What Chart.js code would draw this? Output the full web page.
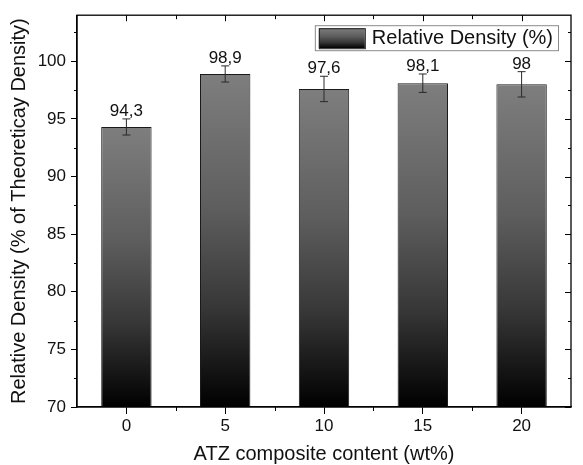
<!DOCTYPE html>
<html>
<head>
<meta charset="utf-8">
<script src="https://cdn.jsdelivr.net/npm/chart.js@4/dist/chart.umd.min.js"></script>
<style>
  html, body { margin: 0; padding: 0; background: #fff; }
  #wrap { width: 583px; height: 465px; }
</style>
</head>
<body>
<div id="wrap"><canvas id="chart" width="583" height="465"></canvas></div>
<script>
// ── Data ─────────────────────────────────────────────
const categories = ['0', '5', '10', '15', '20']
const density    = [94.3, 98.9, 97.6, 98.1, 98.0]
const densityErr = [0.7, 0.7, 1.1, 0.8, 1.1]
const yTicks     = [70, 75, 80, 85, 90, 95, 100]

const FONT = "'Liberation Sans', Arial, sans-serif"

// per-bar vertical gradient, gray on top fading to black at the baseline
function barGradient(ctx, top, bottom) {
  const g = ctx.createLinearGradient(0, top, 0, bottom)
  g.addColorStop(0, '#7e7e7e')
  g.addColorStop(0.4, '#5e5e5e')
  g.addColorStop(0.7, '#373737')
  g.addColorStop(1, '#000000')
  return g
}

// ── Error bars + value labels ────────────────────────
const errorBars = {
  id: 'errorBars',
  afterDatasetsDraw(chart) {
    const { ctx } = chart
    const y = chart.scales.y
    const meta = chart.getDatasetMeta(0)
    ctx.save()
    meta.data.forEach((bar, i) => {
      const hi = y.getPixelForValue(density[i] + densityErr[i])
      const lo = y.getPixelForValue(density[i] - densityErr[i])
      ctx.strokeStyle = '#2a2a2a'
      ctx.lineWidth = 1
      ctx.beginPath()
      ctx.moveTo(bar.x, hi); ctx.lineTo(bar.x, lo)
      ctx.moveTo(bar.x - 4, hi); ctx.lineTo(bar.x + 4, hi)
      ctx.moveTo(bar.x - 4, lo); ctx.lineTo(bar.x + 4, lo)
      ctx.stroke()

      ctx.fillStyle = '#111'
      ctx.font = `17px ${FONT}`
      ctx.textAlign = 'center'
      ctx.textBaseline = 'alphabetic'
      ctx.fillText(String(density[i]).replace('.', ','), bar.x, hi - 3)
    })
    ctx.restore()
  },
}

// ── Frame, mirrored ticks, minor ticks ───────────────
const frame = {
  id: 'frame',
  afterDraw(chart) {
    const { ctx, chartArea: a } = chart
    const x = chart.scales.x, y = chart.scales.y
    ctx.save()
    ctx.strokeStyle = '#000'
    ctx.lineWidth = 1.3
    ctx.strokeRect(a.left, a.top, a.right - a.left, a.bottom - a.top)

    ctx.lineWidth = 1
    ctx.beginPath()
    // y: minor outward on left, all inward on right
    for (let v = 70; v <= 104; v += 2.5) {
      const py = Math.round(y.getPixelForValue(v)) + 0.5
      const major = v % 5 === 0
      if (!major) { ctx.moveTo(a.left, py); ctx.lineTo(a.left - 3, py) }
      ctx.moveTo(a.right, py); ctx.lineTo(a.right - (major ? 6 : 3), py)
    }
    // x: minor between categories, top inward
    for (let i = 0; i < categories.length; i++) {
      const px = Math.round(x.getPixelForValue(i)) + 0.5
      ctx.moveTo(px, a.top); ctx.lineTo(px, a.top + 6)
      if (i < categories.length - 1) {
        const mx = Math.round((x.getPixelForValue(i) + x.getPixelForValue(i + 1)) / 2) + 0.5
        ctx.moveTo(mx, a.bottom); ctx.lineTo(mx, a.bottom + 4)
        ctx.moveTo(mx, a.top); ctx.lineTo(mx, a.top + 4)
      }
    }
    ctx.stroke()
    ctx.restore()
  },
}

// ── Legend box inside the plot ───────────────────────
const boxLegend = {
  id: 'boxLegend',
  afterDraw(chart) {
    const { ctx, chartArea: a } = chart
    const label = chart.data.datasets[0].label
    const right = a.right - 13, top = a.top + 10
    ctx.save()
    ctx.font = `20px ${FONT}`
    const w = ctx.measureText(label).width + 62
    const left = right - w, h = 25
    ctx.fillStyle = '#fff'
    ctx.fillRect(left, top, w, h)
    ctx.strokeStyle = '#8a8a8a'
    ctx.lineWidth = 1
    ctx.strokeRect(left + 0.5, top + 0.5, w, h)

    const sx = left + 4, sy = top + 3, sw = 46, sh = 20
    ctx.fillStyle = barGradient(ctx, sy, sy + sh)
    ctx.fillRect(sx, sy, sw, sh)
    ctx.strokeStyle = '#222'
    ctx.strokeRect(sx + 0.5, sy + 0.5, sw, sh)

    ctx.fillStyle = '#111'
    ctx.textAlign = 'left'
    ctx.textBaseline = 'middle'
    ctx.fillText(label, sx + sw + 7, top + h / 2 + 1)
    ctx.restore()
  },
}

new Chart(document.getElementById('chart'), {
  type: 'bar',
  data: {
    labels: categories,
    datasets: [{
      label: 'Relative Density (%)',
      data: density,
      backgroundColor(c) {
        const { chart } = c
        if (!chart.chartArea || c.dataIndex === undefined) return '#666'
        const top = chart.scales.y.getPixelForValue(density[c.dataIndex])
        return barGradient(chart.ctx, top, chart.chartArea.bottom)
      },
      borderColor: '#1a1a1a',
      borderWidth: 1,
      borderSkipped: 'bottom',
      barPercentage: 0.51,
      categoryPercentage: 1,
    }],
  },
  options: {
    responsive: false,
    animation: false,
    events: [],
    layout: { padding: { top: 10, right: 12, left: 0, bottom: 0 } },
    plugins: { legend: { display: false }, tooltip: { enabled: false } },
    scales: {
      x: {
        afterFit(s) { s.height = 58 },
        grid: { display: true, drawOnChartArea: false, offset: false, tickLength: 7, tickColor: '#000' },
        border: { color: '#000', width: 1.3 },
        ticks: { color: '#111', font: { family: FONT, size: 17 }, padding: 2 },
        title: {
          display: true,
          text: 'ATZ composite content (wt%)',
          color: '#111',
          font: { family: FONT, size: 20, lineHeight: 1 },
          padding: { top: 0, bottom: 1 },
        },
      },
      y: {
        min: 70,
        max: 104,
        afterFit(s) { s.width = 77 },
        afterBuildTicks(s) { s.ticks = yTicks.map(v => ({ value: v })) },
        grid: { display: true, drawOnChartArea: false, tickLength: 6, tickColor: '#000' },
        border: { color: '#000', width: 1.3 },
        ticks: { color: '#111', font: { family: FONT, size: 17 }, padding: 5 },
        title: {
          display: true,
          text: 'Relative Density (% of Theoreticay Density)',
          color: '#111',
          font: { family: FONT, size: 20, lineHeight: 1 },
          padding: { top: 9, bottom: 0 },
        },
      },
    },
  },
  plugins: [errorBars, frame, boxLegend],
})
</script>
</body>
</html>
